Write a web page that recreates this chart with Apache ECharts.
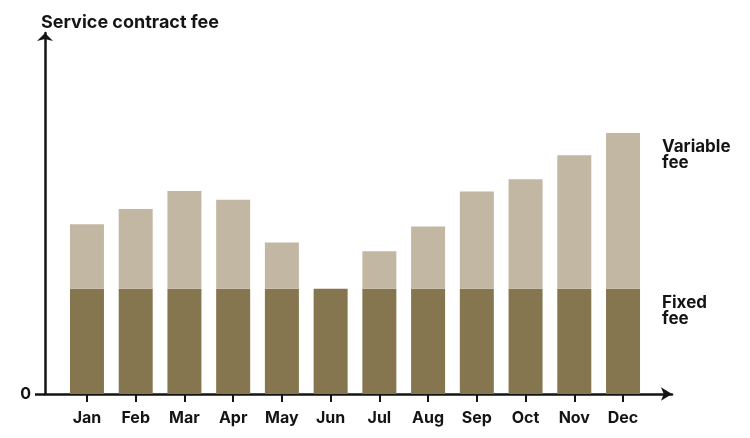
<!DOCTYPE html>
<html>
<head>
<meta charset="utf-8">
<script src="https://cdn.jsdelivr.net/npm/echarts@6/dist/echarts.min.js"></script>
<style>html,body{margin:0;padding:0;background:#fff;}#c{width:750px;height:438px;}</style>
</head>
<body>
<div id="c"></div>
<script>
const months = ['Jan','Feb','Mar','Apr','May','Jun','Jul','Aug','Sep','Oct','Nov','Dec'];
const fixedFee = [30,30,30,30,30,30,30,30,30,30,30,30];
const variableFee = [18.4,22.8,27.9,25.4,13.2,0,10.7,17.8,27.8,31.3,38.1,44.5];
const yTickLabels = [0];
const seriesNames = ['Fixed fee','Variable fee'];

const FONT = 'Inter, "Noto Sans", sans-serif';
const INK = '#141414';
const chart = echarts.init(document.getElementById('c'), null, {renderer:'canvas'});

function lastLabel(name, idx, len) {
  return {
    show: idx === len - 1,
    position: ['100%', 6],
    offset: [22, 0],
    formatter: name.replace(' ', '\n'),
    color: INK,
    fontFamily: FONT,
    fontWeight: 'bold',
    fontSize: 17,
    lineHeight: 16,
    align: 'left',
    verticalAlign: 'top'
  };
}

chart.setOption({
  animation: false,
  backgroundColor: '#fff',
  title: {
    text: 'Service contract fee',
    left: 36, top: 9,
    textStyle: {fontFamily: FONT, fontWeight: 'bold', fontSize: 18, color: INK}
  },
  grid: [
    {left: 62.6, right: 102.6, top: 33, bottom: 44},
    {left: 45, right: 78, top: 33, bottom: 44}
  ],
  xAxis: [
    {
      gridIndex: 0, type: 'category', data: months,
      axisLine: {show: false},
      axisTick: {show: true, alignWithLabel: true, length: 8, lineStyle: {color: INK, width: 2}},
      axisLabel: {color: INK, fontFamily: FONT, fontWeight: 'bold', fontSize: 16, margin: 16}
    },
    {
      gridIndex: 1, type: 'value', min: 0, max: 1,
      axisLine: {show: true, symbol: ['none','arrow'], symbolSize: [10, 11], lineStyle: {color: INK, width: 2.5}},
      axisTick: {show: false}, axisLabel: {show: false}, splitLine: {show: false}
    }
  ],
  yAxis: [
    {
      gridIndex: 0, type: 'value', min: 0, max: 103,
      axisLine: {show: false}, axisTick: {show: false}, axisLabel: {show: false}, splitLine: {show: false}
    },
    {
      gridIndex: 1, type: 'value', min: 0, max: 103,
      axisLine: {show: true, symbol: ['none','arrow'], symbolSize: [12, 8], lineStyle: {color: INK, width: 2.5}},
      axisTick: {show: true, customValues: yTickLabels, length: 10, lineStyle: {color: INK, width: 2.5}},
      axisLabel: {show: true, customValues: yTickLabels, color: INK, fontFamily: FONT, fontWeight: 'bold', fontSize: 16, margin: 14},
      splitLine: {show: false}
    }
  ],
  series: [
    {
      name: seriesNames[0], type: 'bar', stack: 'fee', xAxisIndex: 0, yAxisIndex: 0,
      barWidth: 34,
      itemStyle: {color: '#85764f'},
      data: fixedFee.map((v, i) => ({value: v, label: lastLabel(seriesNames[0], i, fixedFee.length)}))
    },
    {
      name: seriesNames[1], type: 'bar', stack: 'fee', xAxisIndex: 0, yAxisIndex: 0,
      barWidth: 34,
      itemStyle: {color: '#c2b7a2'},
      data: variableFee.map((v, i) => ({value: v, label: lastLabel(seriesNames[1], i, variableFee.length)}))
    }
  ]
});
</script>
</body>
</html>
